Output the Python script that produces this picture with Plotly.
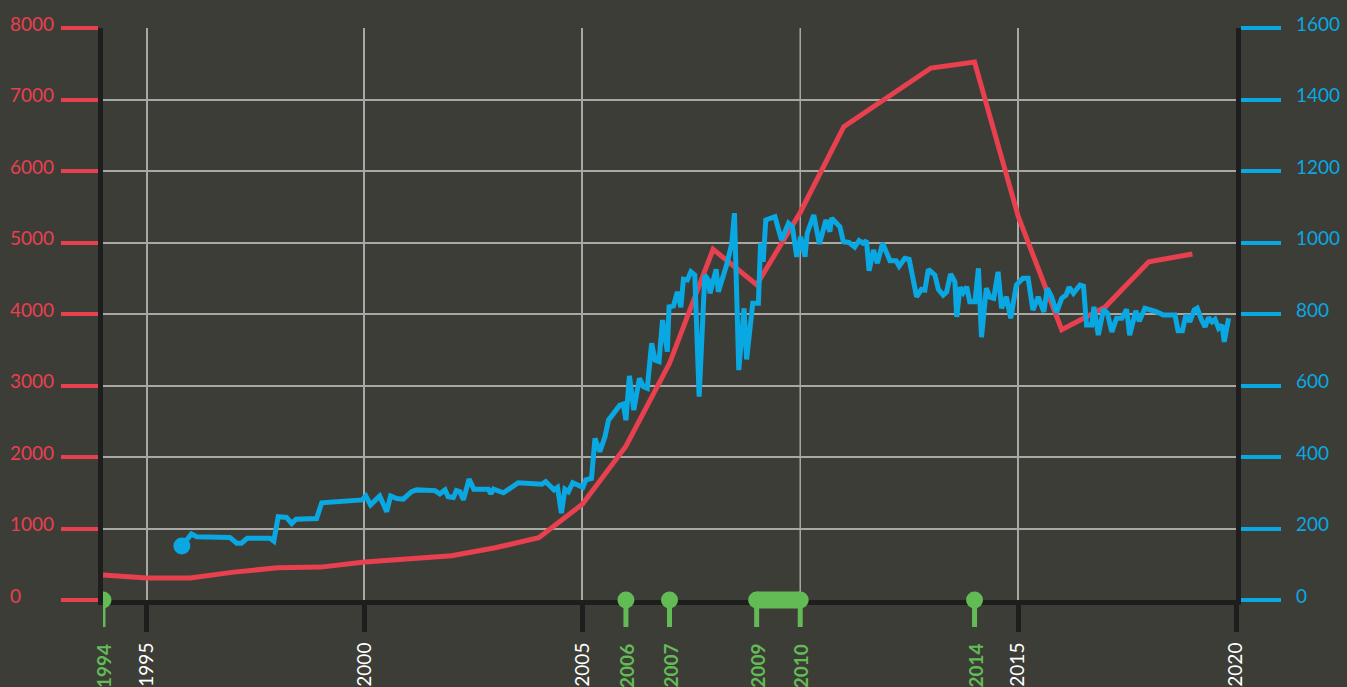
import plotly.graph_objects as go

# red series (left axis), yearly
red_years = [1994, 1995, 1996, 1997, 1998, 1999, 2000, 2001, 2002, 2003, 2004, 2005, 2006,
             2007, 2008, 2009, 2010, 2011, 2012, 2013, 2014, 2015, 2016, 2017, 2018, 2019]
red_values = [350, 308, 308, 390, 450, 460, 530, 580, 620, 730, 870, 1340, 2150,
              3310, 4905, 4410, 5420, 6620, 7030, 7440, 7525, 5370, 3780, 4100, 4730, 4840]

# blue series (right axis), roughly monthly
blue_years = [1995.81, 1996.03, 1996.15, 1996.91, 1997.07, 1997.18, 1997.31, 1997.83, 1997.92,
              1998.02, 1998.21, 1998.33, 1998.43, 1998.90, 1999.02, 1999.94, 2000.03, 2000.14,
              2000.35, 2000.51, 2000.60, 2000.74, 2000.89, 2001.08, 2001.20, 2001.62, 2001.73,
              2001.85, 2001.92, 2002.04, 2002.11, 2002.19, 2002.27, 2002.40, 2002.51, 2002.84,
              2002.90, 2002.96, 2003.19, 2003.53, 2004.07, 2004.16, 2004.26, 2004.35, 2004.43,
              2004.52, 2004.60, 2004.68, 2004.78, 2004.91, 2005.01, 2005.08, 2005.21, 2005.29,
              2005.40, 2005.52, 2005.60, 2005.86, 2005.94, 2006.00, 2006.08, 2006.18, 2006.31,
              2006.40, 2006.49, 2006.59, 2006.67, 2006.76, 2006.84, 2006.95, 2006.99, 2007.09,
              2007.18, 2007.26, 2007.32, 2007.41, 2007.49, 2007.58, 2007.68, 2007.81, 2007.89,
              2007.93, 2008.07, 2008.12, 2008.31, 2008.43, 2008.49, 2008.59, 2008.71, 2008.77,
              2008.91, 2009.04, 2009.09, 2009.15, 2009.21, 2009.42, 2009.57, 2009.73, 2009.82,
              2009.92, 2010.01, 2010.11, 2010.16, 2010.31, 2010.44, 2010.59, 2010.68, 2010.72,
              2010.91, 2010.99, 2011.12, 2011.25, 2011.35, 2011.44, 2011.52, 2011.58, 2011.68,
              2011.77, 2011.89, 2012.06, 2012.20, 2012.27, 2012.40, 2012.50, 2012.67, 2012.78,
              2012.86, 2012.94, 2013.09, 2013.17, 2013.28, 2013.36, 2013.45, 2013.55, 2013.59,
              2013.67, 2013.74, 2013.82, 2013.89, 2014.01, 2014.09, 2014.16, 2014.27, 2014.35,
              2014.44, 2014.54, 2014.62, 2014.73, 2014.83, 2014.96, 2015.11, 2015.23, 2015.34,
              2015.46, 2015.59, 2015.67, 2015.77, 2015.88, 2016.00, 2016.10, 2016.17, 2016.27,
              2016.42, 2016.50, 2016.57, 2016.69, 2016.74, 2016.84, 2016.96, 2017.05, 2017.15,
              2017.26, 2017.38, 2017.49, 2017.56, 2017.70, 2017.78, 2017.91, 2018.02, 2018.18,
              2018.33, 2018.60, 2018.67, 2018.77, 2018.85, 2018.94, 2019.04, 2019.11, 2019.21,
              2019.29, 2019.37, 2019.45, 2019.52, 2019.60, 2019.68, 2019.73, 2019.83]
blue_values = [151, 185, 177, 175, 159, 159, 173, 173, 165,
               233, 231, 214, 226, 228, 272, 280, 291, 266,
               291, 247, 291, 284, 282, 303, 308, 306, 297,
               308, 289, 287, 306, 303, 280, 338, 310, 310,
               297, 310, 300, 328, 324, 331, 319, 308, 315,
               243, 310, 303, 328, 322, 315, 336, 340, 452,
               415, 457, 503, 545, 548, 503, 627, 531, 620,
               597, 592, 718, 671, 667, 783, 695, 820, 822,
               862, 819, 897, 895, 918, 909, 569, 909, 895,
               858, 925, 862, 937, 998, 1082, 643, 816, 673,
               830, 830, 998, 946, 1063, 1072, 1007, 1054, 1044,
               960, 1016, 960, 1026, 1077, 996, 1063, 1030, 1068,
               1044, 1002, 1000, 987, 1005, 998, 1005, 921, 979,
               942, 998, 949, 949, 934, 956, 953, 848, 869,
               867, 925, 909, 869, 853, 862, 912, 890, 792,
               875, 860, 876, 834, 834, 928, 735, 872, 847,
               844, 918, 816, 848, 788, 881, 900, 900, 811,
               848, 806, 872, 848, 804, 844, 853, 875, 858,
               881, 878, 769, 769, 820, 741, 813, 802, 750,
               788, 788, 813, 741, 809, 780, 816, 813, 806,
               797, 797, 753, 753, 797, 778, 811, 816, 783,
               764, 790, 778, 785, 760, 769, 722, 788]

event_years = [1994, 2006, 2007, 2009, 2010, 2014]
event_span = [2009, 2010]
year_ticks = [1995, 2000, 2005, 2015, 2020]
left_ticks = [0, 1000, 2000, 3000, 4000, 5000, 6000, 7000, 8000]
right_ticks = [0, 200, 400, 600, 800, 1000, 1200, 1400, 1600]

BG = '#3d3d38'
RED = '#e8404f'
BLUE = '#0aa8e2'
GREEN = '#62bb55'
DARK = '#1e1e1e'
GRID = '#a8a8a4'
FONT = 'Lato'

fig = go.Figure()
fig.add_trace(go.Scatter(x=red_years, y=red_values, mode='lines',
                         line=dict(color=RED, width=5), yaxis='y'))
fig.add_trace(go.Scatter(x=blue_years, y=blue_values, mode='lines',
                         line=dict(color=BLUE, width=5), yaxis='y2'))
# start dot of the blue series
fig.add_trace(go.Scatter(x=blue_years[:1], y=blue_values[:1], mode='markers',
                         marker=dict(color=BLUE, size=17, opacity=1, line=dict(width=0)),
                         yaxis='y2'))

shapes = []
# 2010 gridline (no black tick there)
shapes.append(dict(type='line', xref='x', yref='paper', x0=2010, x1=2010, y0=0, y1=1,
                   line=dict(color=GRID, width=1.5), layer='below'))
# green event markers
for yr in event_years:
    shapes.append(dict(type='line', xref='x', x0=yr, x1=yr, yref='paper', ysizemode='pixel',
                       yanchor=0, y0=0, y1=-27, line=dict(color=GREEN, width=5), layer='above'))
    shapes.append(dict(type='circle', xref='x', xsizemode='pixel', xanchor=yr, x0=-8.5, x1=8.5,
                       yref='paper', ysizemode='pixel', yanchor=0, y0=-8.5, y1=8.5,
                       fillcolor=GREEN, line=dict(width=0), layer='above'))
shapes.append(dict(type='rect', xref='x', x0=event_span[0], x1=event_span[1], yref='paper',
                   ysizemode='pixel', yanchor=0, y0=-8.5, y1=8.5,
                   fillcolor=GREEN, line=dict(width=0), layer='above'))

annotations = []
for yr in event_years:
    annotations.append(dict(x=yr, xref='x', y=0, yref='paper', yshift=-42, yanchor='top',
                            text=str(yr), textangle=-90, showarrow=False,
                            font=dict(family=FONT, size=19, color=GREEN, weight='bold')))
for v in left_ticks:
    annotations.append(dict(x=-95 / 1133, xref='paper', xanchor='left', y=v, yref='y',
                            yshift=5, text=str(v), showarrow=False,
                            font=dict(family=FONT, size=19, color=RED)))
for v in right_ticks:
    annotations.append(dict(x=1 + 58 / 1133, xref='paper', xanchor='left', y=v, yref='y2',
                            yshift=5, text=str(v), showarrow=False,
                            font=dict(family=FONT, size=19, color=BLUE)))

fig.update_layout(
    width=1347, height=687,
    margin=dict(l=103, r=111, t=28, b=87),
    paper_bgcolor=BG, plot_bgcolor=BG,
    showlegend=False,
    shapes=shapes, annotations=annotations,
    xaxis=dict(range=[1994, 2020], tickvals=year_ticks, tickangle=-90,
               tickfont=dict(family=FONT, size=19, color='white'),
               ticks='outside', ticklen=27, tickwidth=5, tickcolor=DARK,
               ticklabelstandoff=3, automargin=False,
               showline=True, linecolor=DARK, linewidth=5,
               showgrid=True, gridcolor=GRID, gridwidth=1.5, zeroline=False),
    yaxis=dict(range=[0, 8000], tickvals=left_ticks, showticklabels=False,
               ticks='outside', ticklen=37, tickwidth=4, tickcolor=RED, automargin=False,
               showline=True, linecolor=DARK, linewidth=5,
               showgrid=True, gridcolor=GRID, gridwidth=1.5, zeroline=False),
    yaxis2=dict(range=[0, 1600], tickvals=right_ticks, showticklabels=False,
                overlaying='y', side='right', anchor='x', automargin=False,
                ticks='outside', ticklen=40, tickwidth=4, tickcolor=BLUE,
                showline=True, linecolor=DARK, linewidth=5,
                showgrid=False, zeroline=False),
)

fig.write_html("out.html", config={'displayModeBar': False},
               post_script="document.body.style.margin='0';"
                           "document.body.style.background='" + BG + "';")
